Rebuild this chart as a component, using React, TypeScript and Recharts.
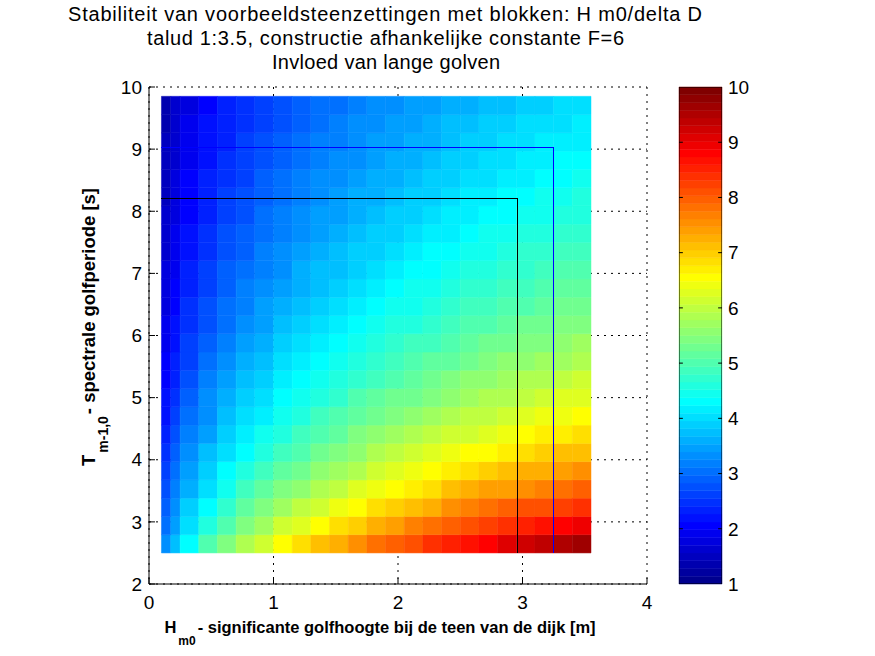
import { ComposedChart, XAxis, YAxis, CartesianGrid, ReferenceArea, ReferenceLine, Line } from 'recharts'

// celgrenzen: Hm0 [m] en Tm-1,0 [s]
const hEdges = [0.1, 0.175, 0.25, 0.4, 0.55, 0.7, 0.85, 1.0, 1.15, 1.3, 1.45, 1.6, 1.75, 1.9, 2.05, 2.2, 2.35, 2.5, 2.65, 2.8, 2.95, 3.1, 3.25, 3.4, 3.55]
const tEdges = [2.5, 2.794, 3.088, 3.382, 3.676, 3.97, 4.264, 4.558, 4.852, 5.146, 5.44, 5.734, 6.028, 6.322, 6.616, 6.91, 7.204, 7.498, 7.792, 8.086, 8.38, 8.674, 8.968, 9.262, 9.556, 9.85]

// Hm0/delta D per cel, rij = T (laag -> hoog), kolom = Hm0 (laag -> hoog)
const stab = [
  [3.28, 3.79, 4.37, 4.95, 5.43, 5.83, 6.19, 6.51, 6.80, 7.06, 7.31, 7.54, 7.76, 7.97, 8.17, 8.35, 8.53, 8.71, 8.87, 9.03, 9.18, 9.33, 9.48, 9.62],
  [3.06, 3.53, 4.07, 4.62, 5.06, 5.44, 5.77, 6.07, 6.34, 6.59, 6.82, 7.03, 7.24, 7.43, 7.61, 7.79, 7.96, 8.12, 8.27, 8.42, 8.56, 8.70, 8.84, 8.97],
  [2.87, 3.32, 3.82, 4.34, 4.75, 5.11, 5.42, 5.70, 5.95, 6.18, 6.40, 6.60, 6.79, 6.98, 7.15, 7.31, 7.47, 7.62, 7.77, 7.91, 8.04, 8.17, 8.30, 8.42],
  [2.71, 3.13, 3.61, 4.09, 4.49, 4.82, 5.11, 5.38, 5.62, 5.84, 6.04, 6.23, 6.41, 6.59, 6.75, 6.90, 7.05, 7.19, 7.33, 7.46, 7.59, 7.71, 7.83, 7.95],
  [2.57, 2.97, 3.42, 3.88, 4.26, 4.57, 4.85, 5.10, 5.33, 5.54, 5.73, 5.91, 6.08, 6.25, 6.40, 6.55, 6.69, 6.82, 6.95, 7.08, 7.20, 7.32, 7.43, 7.54],
  [2.45, 2.83, 3.26, 3.70, 4.05, 4.35, 4.62, 4.85, 5.07, 5.27, 5.45, 5.63, 5.79, 5.95, 6.09, 6.23, 6.37, 6.50, 6.62, 6.74, 6.85, 6.96, 7.07, 7.18],
  [2.34, 2.70, 3.11, 3.53, 3.87, 4.16, 4.41, 4.64, 4.84, 5.03, 5.21, 5.38, 5.53, 5.68, 5.82, 5.95, 6.08, 6.20, 6.32, 6.44, 6.55, 6.65, 6.76, 6.86],
  [2.24, 2.59, 2.98, 3.38, 3.71, 3.98, 4.22, 4.44, 4.64, 4.82, 4.99, 5.15, 5.30, 5.44, 5.58, 5.70, 5.83, 5.94, 6.06, 6.17, 6.27, 6.37, 6.47, 6.57],
  [2.15, 2.49, 2.86, 3.25, 3.56, 3.83, 4.06, 4.27, 4.46, 4.63, 4.79, 4.95, 5.09, 5.23, 5.35, 5.48, 5.60, 5.71, 5.82, 5.92, 6.02, 6.12, 6.22, 6.31],
  [2.07, 2.39, 2.76, 3.13, 3.43, 3.68, 3.91, 4.11, 4.29, 4.46, 4.62, 4.76, 4.90, 5.03, 5.15, 5.27, 5.39, 5.50, 5.60, 5.70, 5.80, 5.89, 5.98, 6.07],
  [2.00, 2.31, 2.66, 3.02, 3.31, 3.55, 3.77, 3.96, 4.14, 4.30, 4.45, 4.59, 4.73, 4.85, 4.97, 5.09, 5.20, 5.30, 5.40, 5.50, 5.59, 5.69, 5.77, 5.86],
  [1.93, 2.23, 2.57, 2.92, 3.20, 3.43, 3.64, 3.83, 4.00, 4.16, 4.30, 4.44, 4.57, 4.69, 4.81, 4.92, 5.02, 5.12, 5.22, 5.32, 5.41, 5.49, 5.58, 5.66],
  [1.87, 2.16, 2.49, 2.82, 3.09, 3.32, 3.53, 3.71, 3.87, 4.02, 4.17, 4.30, 4.42, 4.54, 4.65, 4.76, 4.86, 4.96, 5.06, 5.15, 5.23, 5.32, 5.40, 5.48],
  [1.81, 2.09, 2.41, 2.74, 3.00, 3.22, 3.42, 3.59, 3.75, 3.90, 4.04, 4.17, 4.29, 4.40, 4.51, 4.62, 4.71, 4.81, 4.90, 4.99, 5.07, 5.16, 5.24, 5.31],
  [1.76, 2.03, 2.34, 2.66, 2.91, 3.13, 3.32, 3.49, 3.65, 3.79, 3.92, 4.05, 4.16, 4.27, 4.38, 4.48, 4.58, 4.67, 4.76, 4.84, 4.93, 5.01, 5.08, 5.16],
  [1.71, 1.98, 2.28, 2.58, 2.83, 3.04, 3.23, 3.39, 3.54, 3.68, 3.81, 3.93, 4.05, 4.16, 4.26, 4.36, 4.45, 4.54, 4.63, 4.71, 4.79, 4.87, 4.94, 5.02],
  [1.66, 1.92, 2.22, 2.51, 2.76, 2.96, 3.14, 3.30, 3.45, 3.58, 3.71, 3.83, 3.94, 4.04, 4.14, 4.24, 4.33, 4.42, 4.50, 4.58, 4.66, 4.74, 4.81, 4.88],
  [1.62, 1.87, 2.16, 2.45, 2.69, 2.88, 3.06, 3.22, 3.36, 3.49, 3.62, 3.73, 3.84, 3.94, 4.04, 4.13, 4.22, 4.31, 4.39, 4.47, 4.54, 4.62, 4.69, 4.76],
  [1.58, 1.83, 2.11, 2.39, 2.62, 2.81, 2.98, 3.14, 3.28, 3.41, 3.53, 3.64, 3.74, 3.84, 3.94, 4.03, 4.12, 4.20, 4.28, 4.36, 4.43, 4.50, 4.57, 4.64],
  [1.54, 1.78, 2.05, 2.33, 2.56, 2.75, 2.91, 3.06, 3.20, 3.32, 3.44, 3.55, 3.65, 3.75, 3.84, 3.93, 4.02, 4.10, 4.17, 4.25, 4.32, 4.39, 4.46, 4.53],
  [1.51, 1.74, 2.01, 2.28, 2.50, 2.68, 2.85, 2.99, 3.13, 3.25, 3.36, 3.47, 3.57, 3.66, 3.76, 3.84, 3.92, 4.00, 4.08, 4.15, 4.22, 4.29, 4.36, 4.42],
  [1.47, 1.70, 1.96, 2.23, 2.44, 2.62, 2.78, 2.92, 3.06, 3.18, 3.29, 3.39, 3.49, 3.58, 3.67, 3.76, 3.84, 3.91, 3.99, 4.06, 4.13, 4.20, 4.26, 4.32],
  [1.44, 1.67, 1.92, 2.18, 2.39, 2.57, 2.72, 2.86, 2.99, 3.11, 3.22, 3.32, 3.41, 3.50, 3.59, 3.67, 3.75, 3.83, 3.90, 3.97, 4.04, 4.11, 4.17, 4.23],
  [1.41, 1.63, 1.88, 2.13, 2.34, 2.51, 2.66, 2.80, 2.93, 3.04, 3.15, 3.25, 3.34, 3.43, 3.52, 3.60, 3.68, 3.75, 3.82, 3.89, 3.96, 4.02, 4.08, 4.14],
  [1.38, 1.60, 1.84, 2.09, 2.29, 2.46, 2.61, 2.75, 2.87, 2.98, 3.09, 3.18, 3.28, 3.36, 3.45, 3.53, 3.60, 3.67, 3.74, 3.81, 3.88, 3.94, 4.00, 4.06],
]

// grenslijnen (zwart en blauw)
const hGrens = [2.96, 3.25]
const tGrens = [8.21, 9.03]

const xTicks = [0, 1, 2, 3, 4]
const yTicks = [2, 3, 4, 5, 6, 7, 8, 9, 10]
const cbTicks = [1, 2, 3, 4, 5, 6, 7, 8, 9, 10]
const cMin = 1
const cMax = 10

const grensKleur = ['#000000', '#0000ff']
const FONT = "'Liberation Sans', Arial, Helvetica, sans-serif"

// matlab jet(64)
const jetIndex = (v: number) =>
  Math.min(64, Math.max(1, Math.floor(((v - cMin) / (cMax - cMin)) * 64) + 1))
const jetColor = (i: number) => {
  const r = i <= 24 ? 0 : i <= 40 ? (i - 24) / 16 : i <= 55 ? 1 : (72 - i) / 16
  const g = i <= 8 ? 0 : i <= 24 ? (i - 8) / 16 : i <= 39 ? 1 : i <= 55 ? (56 - i) / 16 : 0
  const b = i <= 8 ? (i + 8) / 16 : i <= 23 ? 1 : i <= 39 ? (40 - i) / 16 : 0
  const h = (c: number) => Math.round(c * 255).toString(16).padStart(2, '0')
  return `#${h(r)}${h(g)}${h(b)}`
}

const cells = stab.flatMap((row, j) =>
  row.map((v, i) => ({
    x1: hEdges[i], x2: hEdges[i + 1], y1: tEdges[j], y2: tEdges[j + 1], color: jetColor(jetIndex(v)),
  }))
)

const bands = Array.from({ length: 64 }, (_, k) => ({
  y1: cMin + (k * (cMax - cMin)) / 64,
  y2: cMin + ((k + 1) * (cMax - cMin)) / 64,
  color: jetColor(k + 1),
}))

const grensData = hGrens.map((h, k) => [
  { h: hEdges[0], t: tGrens[k] },
  { h, t: tGrens[k] },
  { h, t: tEdges[0] },
])

// kader van de kleurenbalk
const cbFrame = [
  { x: 0, y: cMin }, { x: 0, y: cMax }, { x: 1, y: cMax }, { x: 1, y: cMin }, { x: 0, y: cMin },
]

const tickStyle = { fill: '#000', fontSize: 19 }

function MainChart() {
  return (
    <ComposedChart width={875} height={656} margin={{ top: 87, right: 228, bottom: 42, left: 109 }}>
      <CartesianGrid stroke="#000" strokeDasharray="2 5" />
      <XAxis
        type="number" dataKey="h" domain={[0, 4]} ticks={xTicks} interval={0} allowDataOverflow
        height={30} tickSize={0} tickMargin={12} tickLine={false}
        axisLine={{ stroke: '#000' }} tick={tickStyle}
      />
      <YAxis
        type="number" domain={[2, 10]} ticks={yTicks} interval={0} allowDataOverflow
        width={40} tickSize={0} tickMargin={7} tickLine={false}
        axisLine={{ stroke: '#000' }} tick={tickStyle}
      />
      {cells.map((c, k) => (
        <ReferenceArea
          key={k} x1={c.x1} x2={c.x2} y1={c.y1} y2={c.y2}
          fill={c.color} fillOpacity={1} stroke={c.color} strokeWidth={0.5}
        />
      ))}
      {yTicks.map((v) => (
        <ReferenceLine key={`yt${v}`} segment={[{ x: 0, y: v }, { x: 0.048, y: v }]} stroke="#000" />
      ))}
      {xTicks.map((v) => (
        <ReferenceLine key={`xt${v}`} segment={[{ x: v, y: 2 }, { x: v, y: 2.097 }]} stroke="#000" />
      ))}
      {grensData.map((d, k) => (
        <Line
          key={k} data={d} dataKey="t" type="linear" stroke={grensKleur[k]} strokeWidth={1}
          shapeRendering="crispEdges" dot={false} activeDot={false} isAnimationActive={false}
        />
      ))}
    </ComposedChart>
  )
}

function ColorBar() {
  return (
    <ComposedChart width={875} height={656} margin={{ top: 87, right: 113, bottom: 72, left: 679 }}>
      <XAxis type="number" dataKey="x" domain={[0, 1]} hide allowDataOverflow />
      <YAxis
        type="number" orientation="right" domain={[cMin, cMax]} ticks={cbTicks} interval={0}
        allowDataOverflow width={40} tickSize={0} tickMargin={6} tickLine={false} axisLine={false}
        tick={tickStyle}
      />
      {bands.map((b, k) => (
        <ReferenceArea
          key={k} x1={0} x2={1} y1={b.y1} y2={b.y2}
          fill={b.color} fillOpacity={1} stroke={b.color} strokeWidth={0.5}
        />
      ))}
      {cbTicks.slice(1, -1).map((v) => (
        <ReferenceLine key={`l${v}`} segment={[{ x: 0, y: v }, { x: 0.09, y: v }]} stroke="#000" />
      ))}
      {cbTicks.slice(1, -1).map((v) => (
        <ReferenceLine key={`r${v}`} segment={[{ x: 0.91, y: v }, { x: 1, y: v }]} stroke="#000" />
      ))}
      <Line
        data={cbFrame} dataKey="y" type="linear" stroke="#000" strokeWidth={1}
        dot={false} activeDot={false} isAnimationActive={false}
      />
    </ComposedChart>
  )
}

export default function App() {
  const abs = { position: 'absolute' as const, left: 0, top: 0 }
  return (
    <div style={{ ...abs, width: 875, height: 656, background: '#fff', fontFamily: FONT }}>
      <div style={abs}><MainChart /></div>
      <div style={abs}><ColorBar /></div>
      <svg width={875} height={656} style={{ ...abs, pointerEvents: 'none' }} fontFamily={FONT}>
        <g fontSize={20} textAnchor="middle" fill="#000">
          <text x={385} y={21} textLength={634} lengthAdjust="spacing">
            Stabiliteit van voorbeeldsteenzettingen met blokken: H m0/delta D
          </text>
          <text x={385.5} y={45} textLength={477} lengthAdjust="spacing">
            talud 1:3.5, constructie afhankelijke constante F=6
          </text>
          <text x={386} y={69} textLength={228} lengthAdjust="spacing">Invloed van lange golven</text>
        </g>
        <text x={380} y={633} textAnchor="middle" fontWeight="bold" fontSize={16.5} fill="#000">
          H<tspan dx={2} dy={12} fontSize={12}>m0</tspan>
          <tspan dx={2} dy={-12}>- significante golfhoogte bij de teen van de dijk [m]</tspan>
        </text>
        <text
          transform="rotate(-90)" x={-327} y={95} textAnchor="middle"
          fontWeight="bold" fontSize={18.5} fill="#000"
        >
          T<tspan dx={2} dy={13} fontSize={14}>m-1,0</tspan>
          <tspan dx={2} dy={-13}>- spectrale golfperiode [s]</tspan>
        </text>
      </svg>
    </div>
  )
}
